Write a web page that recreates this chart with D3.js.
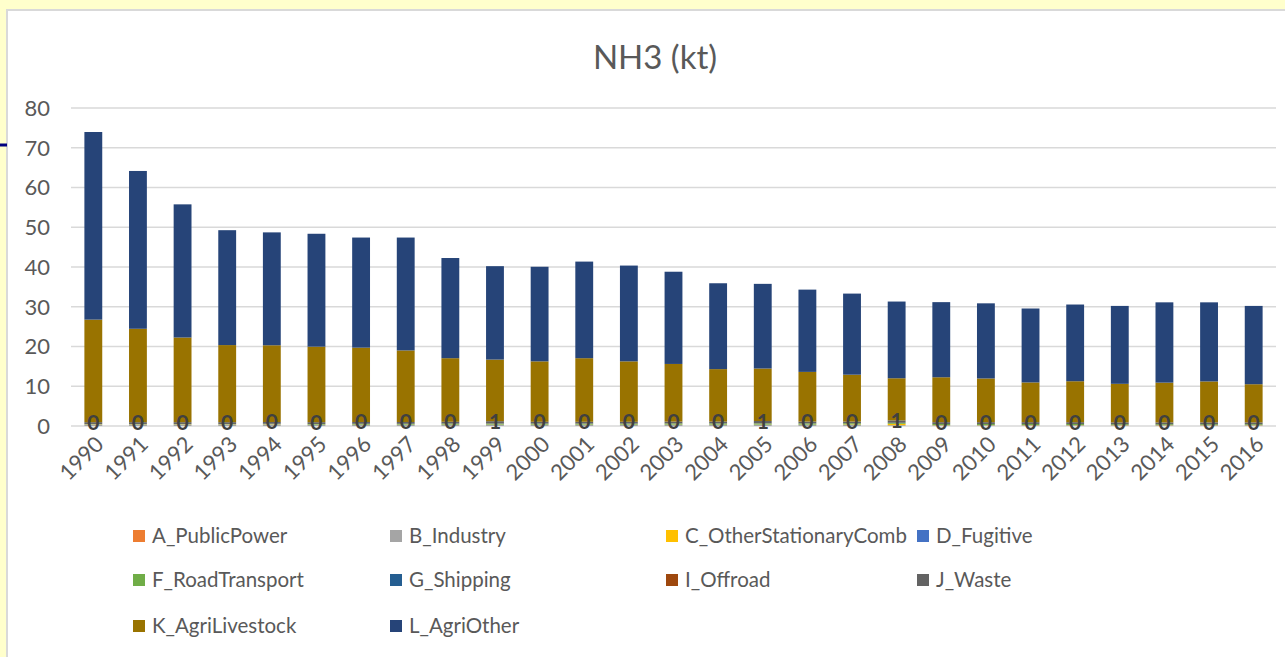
<!DOCTYPE html>
<html>
<head>
<meta charset="utf-8">
<script src="https://cdn.jsdelivr.net/npm/d3@7"></script>
<style>
  body { margin: 0; background: #ffffcc; overflow: hidden; }
  text { font-family: Lato, "Open Sans", sans-serif; fill: #595959; }
</style>
</head>
<body>
<div id="chart"></div>
<script>
// years on the x axis
var years = d3.range(1990, 2017).map(String);

// series names, bottom to top of each stack
var seriesNames = ["A_PublicPower", "B_Industry", "C_OtherStationaryComb", "D_Fugitive",
    "F_RoadTransport", "G_Shipping", "I_Offroad", "J_Waste", "K_AgriLivestock", "L_AgriOther"];

var seriesColors = ["#ed7d31", "#a5a5a5", "#ffc000", "#4472c4", "#70ad47",
    "#255e91", "#9e480e", "#636363", "#997300", "#264478"];

// values in kt
var aPublicPower = [0, 0, 0, 0, 0, 0, 0, 0, 0, 0, 0, 0, 0, 0, 0, 0, 0, 0, 0, 0, 0, 0, 0, 0, 0, 0, 0];
var bIndustry = [0.4, 0.4, 0.4, 0.4, 0.4, 0.3, 0.3, 0.3, 0.3, 0.3, 0.3, 0.3, 0.3, 0.3, 0.3, 0.3, 0.3, 0.3, 0.2, 0.2, 0.2, 0.2, 0.2, 0.2, 0.2, 0.2, 0.2];
var cOtherStationary = [0.05, 0.05, 0.05, 0.05, 0.05, 0.05, 0.05, 0.05, 0.05, 0.05, 0.05, 0.05, 0.05, 0.05, 0.05, 0.05, 0.05, 0.1, 0.35, 0.05, 0.05, 0.05, 0.05, 0.05, 0.05, 0.05, 0.05];
var dFugitive = [0, 0, 0, 0, 0, 0, 0, 0, 0, 0, 0, 0, 0, 0, 0, 0, 0, 0, 0, 0, 0, 0, 0, 0, 0, 0, 0];
var fRoadTransport = [0.05, 0.05, 0.05, 0.05, 0.1, 0.15, 0.2, 0.2, 0.25, 0.25, 0.25, 0.25, 0.25, 0.3, 0.3, 0.3, 0.3, 0.3, 0.25, 0.25, 0.25, 0.25, 0.25, 0.2, 0.2, 0.2, 0.2];
var gShipping = [0, 0, 0, 0, 0, 0, 0, 0, 0, 0, 0, 0, 0, 0, 0, 0, 0, 0, 0, 0, 0, 0, 0, 0, 0, 0, 0];
var iOffroad = [0.01, 0.01, 0.01, 0.01, 0.01, 0.01, 0.01, 0.01, 0.01, 0.01, 0.01, 0.01, 0.01, 0.01, 0.01, 0.01, 0.01, 0.01, 0.01, 0.01, 0.01, 0.01, 0.01, 0.01, 0.01, 0.01, 0.01];
var jWaste = [0.45, 0.45, 0.45, 0.45, 0.45, 0.45, 0.45, 0.45, 0.45, 0.6, 0.45, 0.45, 0.45, 0.45, 0.45, 0.6, 0.45, 0.4, 0.6, 0.45, 0.45, 0.45, 0.45, 0.45, 0.45, 0.45, 0.45];
var kAgriLivestock = [25.8, 23.5, 21.3, 19.4, 19.3, 19.0, 18.7, 18.0, 16.0, 15.5, 15.2, 16.0, 15.2, 14.5, 13.2, 13.2, 12.5, 11.8, 10.6, 11.3, 11.0, 10.0, 10.3, 9.7, 10.0, 10.3, 9.6];
var lAgriOther = [47.2, 39.7, 33.5, 28.9, 28.4, 28.4, 27.7, 28.4, 25.2, 23.5, 23.8, 24.3, 24.1, 23.2, 21.6, 21.3, 20.7, 20.4, 19.3, 18.9, 18.9, 18.6, 19.3, 19.6, 20.2, 19.9, 19.7];

var seriesValues = [aPublicPower, bIndustry, cOtherStationary, dFugitive, fRoadTransport,
    gShipping, iOffroad, jWaste, kAgriLivestock, lAgriOther];

var yTicks = [0, 10, 20, 30, 40, 50, 60, 70, 80];

var width = 1285, height = 657;
var margin = { top: 108, right: 9, bottom: 231, left: 71 };

var svg = d3.select("#chart").append("svg")
    .attr("width", width)
    .attr("height", height);

// chart frame
svg.append("rect")
    .attr("x", 7).attr("y", 10)
    .attr("width", width + 10).attr("height", height + 10)
    .attr("fill", "#ffffff")
    .attr("stroke", "#d9d9d9")
    .attr("stroke-width", 2);

svg.append("line")
    .attr("x1", 0).attr("x2", 7)
    .attr("y1", 145).attr("y2", 145)
    .attr("stroke", "#000080")
    .attr("stroke-width", 3);

// table of rows for the stack
var rows = years.map(function (y, i) {
    var row = { year: y };
    seriesNames.forEach(function (name, s) {
        row[name] = seriesValues[s][i];
    });
    return row;
});

var stack = d3.stack().keys(seriesNames);
var layers = stack(rows);

var x = d3.scaleBand()
    .domain(years)
    .range([margin.left, width - margin.right])
    .paddingInner(0.6)
    .paddingOuter(0.3);

var y = d3.scaleLinear()
    .domain([0, 80])
    .range([height - margin.bottom, margin.top]);

// gridlines
svg.append("g")
    .selectAll("line")
    .data(yTicks)
    .enter()
    .append("line")
    .attr("x1", margin.left)
    .attr("x2", width - margin.right)
    .attr("y1", function (d) { return y(d); })
    .attr("y2", function (d) { return y(d); })
    .attr("stroke", "#d9d9d9")
    .attr("stroke-width", 1.5);

// y tick labels
svg.append("g")
    .selectAll("text")
    .data(yTicks)
    .enter()
    .append("text")
    .attr("x", 50)
    .attr("y", function (d) { return y(d); })
    .attr("dy", "0.36em")
    .attr("text-anchor", "end")
    .style("font-size", "22px")
    .text(function (d) { return d; });

// bars
svg.append("g")
    .selectAll("g")
    .data(layers)
    .enter()
    .append("g")
    .attr("fill", function (d, i) { return seriesColors[i]; })
    .selectAll("rect")
    .data(function (d) { return d; })
    .enter()
    .append("rect")
    .attr("x", function (d) { return x(d.data.year); })
    .attr("width", x.bandwidth())
    .attr("y", function (d) { return y(d[1]); })
    .attr("height", function (d) { return y(d[0]) - y(d[1]); });

// data labels for the waste series
var wasteLayer = layers[seriesNames.indexOf("J_Waste")];
svg.append("g")
    .selectAll("text")
    .data(wasteLayer)
    .enter()
    .append("text")
    .attr("x", function (d) { return x(d.data.year) + x.bandwidth() / 2; })
    .attr("y", function (d) { return y((d[0] + d[1]) / 2) - 1; })
    .attr("dy", "0.36em")
    .attr("text-anchor", "middle")
    .style("font-size", "21px")
    .style("font-weight", "bold")
    .style("fill", "#404040")
    .text(function (d) { return Math.round(d[1] - d[0]); });

// x axis labels, rotated
svg.append("g")
    .selectAll("text")
    .data(years)
    .enter()
    .append("text")
    .attr("transform", function (d) {
        return "translate(" + (x(d) + x.bandwidth() / 2 + 6) + "," + (y(0) + 14) + ") rotate(-45)";
    })
    .attr("text-anchor", "end")
    .attr("dy", "0.36em")
    .style("font-size", "22px")
    .text(function (d) { return d; });

// title
svg.append("text")
    .attr("x", 655)
    .attr("y", 57)
    .attr("dy", "0.36em")
    .attr("text-anchor", "middle")
    .style("font-size", "33px")
    .text("NH3 (kt)");

// legend
var legendCols = [133, 390, 666, 917];
var legendRows = [536, 580, 626];
var legend = svg.append("g")
    .selectAll("g")
    .data(seriesNames)
    .enter()
    .append("g")
    .attr("transform", function (d, i) {
        return "translate(" + legendCols[i % 4] + "," + legendRows[Math.floor(i / 4)] + ")";
    });

legend.append("rect")
    .attr("x", 0).attr("y", -6)
    .attr("width", 12).attr("height", 12)
    .attr("fill", function (d, i) { return seriesColors[i]; });

legend.append("text")
    .attr("x", 19)
    .attr("dy", "0.36em")
    .style("font-size", "20.5px")
    .text(function (d) { return d; });
</script>
</body>
</html>
